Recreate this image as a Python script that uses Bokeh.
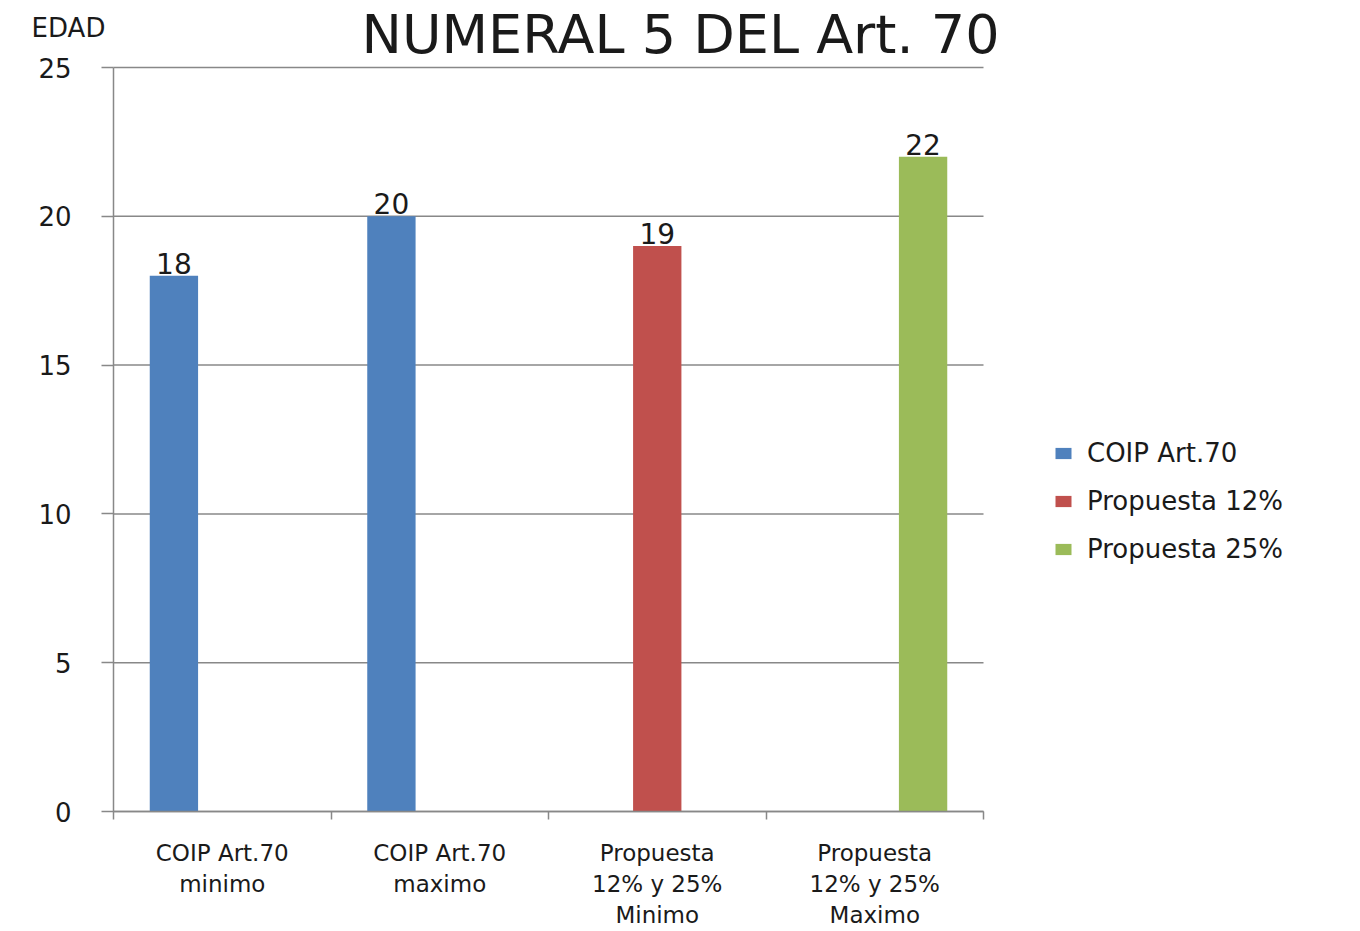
from bokeh.plotting import figure
from bokeh.models import ColumnDataSource, FixedTicker, Legend, LegendItem, Label, Range1d
from bokeh.embed import file_html
from bokeh.resources import INLINE
from bokeh.core.properties import value

# ---- data ----
title_text = "NUMERAL 5 DEL Art. 70"
y_title = "EDAD"
categories = ["COIP Art.70\nminimo", "COIP Art.70\nmaximo",
              "Propuesta\n12% y 25%\nMinimo", "Propuesta\n12% y 25%\nMaximo"]
series_names = ["COIP Art.70", "Propuesta 12%", "Propuesta 25%"]
coip_art70 = [18, 20, None, None]
propuesta_12 = [None, None, 19, None]
propuesta_25 = [None, None, None, 22]
series_values = [coip_art70, propuesta_12, propuesta_25]
colors = ["#4F81BD", "#C0504D", "#9BBB59"]
y_ticks = [0, 5, 10, 15, 20, 25]
y_max = 25

# ---- layout (pixels) ----
W, H = 1344, 931
AX_LEFT, AX_RIGHT = 113, 983      # plot area in pixels
AX_TOP, AX_BOTTOM = 67, 811
FONT = "DejaVu Sans"
TXT = "#1a1a1a"
GRAY = "#888888"

n_cat = len(categories)
n_ser = len(series_names)
bar_w = 1.0 / (n_ser + 1.5)

px_x = (AX_RIGHT - AX_LEFT) / n_cat
px_y = (AX_BOTTOM - AX_TOP) / y_max
def dx(px):  # page x pixel -> data x
    return (px - AX_LEFT) / px_x
def dy(py):  # page y pixel -> data y
    return (AX_BOTTOM - py) / px_y

p = figure(width=W, height=H, output_backend="svg", toolbar_location=None,
           x_range=Range1d(dx(0), dx(W)), y_range=Range1d(dy(H), dy(0)),
           min_border=0)
p.outline_line_color = None
p.background_fill_color = "white"
p.border_fill_color = "white"
p.xgrid.visible = False
p.ygrid.visible = False

# horizontal gridlines across the plot area only
p.segment(x0=0, x1=n_cat, y0=y_ticks, y1=y_ticks, line_color=GRAY, line_width=1.5)

legend_items = []
for j, (name, vals, col) in enumerate(zip(series_names, series_values, colors)):
    xs, ys, labs = [], [], []
    for i, v in enumerate(vals):
        if v is None:
            continue
        xs.append(i + 0.5 + (j - (n_ser - 1) / 2) * bar_w)
        ys.append(v)
        labs.append(str(v))
    src = ColumnDataSource(dict(x=xs, top=ys, lab=labs))
    r = p.vbar(x="x", top="top", width=bar_w, bottom=0, source=src,
               fill_color=col, line_color=None)
    p.text(x="x", y="top", text="lab", source=src, text_align="center",
           text_baseline="bottom", y_offset=-2, text_font=value(FONT),
           text_font_size="28px", text_color=TXT)
    legend_items.append(LegendItem(label=name, renderers=[r]))

# axes drawn at fixed data locations inside the canvas
xa = p.xaxis[0]
xa.fixed_location = 0
xa.bounds = (0, n_cat)
xa.ticker = FixedTicker(ticks=[i + 0.5 for i in range(n_cat)],
                        minor_ticks=list(range(n_cat + 1)))
xa.major_label_overrides = {i + 0.5: c for i, c in enumerate(categories)}
xa.major_tick_out = 0
xa.major_tick_in = 0
xa.minor_tick_out = 8
xa.minor_tick_in = 0
xa.minor_tick_line_color = GRAY
xa.minor_tick_line_width = 1.5
xa.axis_line_color = GRAY
xa.axis_line_width = 1.5
xa.major_label_text_font = FONT
xa.major_label_text_font_size = "23px"
xa.major_label_text_color = TXT
xa.major_label_standoff = 20

ya = p.yaxis[0]
ya.fixed_location = 0
ya.bounds = (0, y_max)
ya.ticker = FixedTicker(ticks=y_ticks, minor_ticks=[])
ya.major_tick_out = 12
ya.major_tick_in = 0
ya.major_tick_line_color = GRAY
ya.major_tick_line_width = 1.5
ya.axis_line_color = GRAY
ya.axis_line_width = 1.5
ya.major_label_text_font = FONT
ya.major_label_text_font_size = "26px"
ya.major_label_text_color = TXT
ya.major_label_standoff = 30

# title and axis title
p.add_layout(Label(x=dx(680), y=dy(2), text=title_text, text_align="center",
                   text_baseline="top", text_font=FONT,
                   text_font_size="54px", text_color=TXT))
p.add_layout(Label(x=dx(68), y=dy(27), text=y_title, text_align="center",
                   text_baseline="middle", text_font=FONT,
                   text_font_size="26px", text_color=TXT))

legend = Legend(items=legend_items,
                location=(1053, H - 564),
                orientation="vertical",
                glyph_width=20, glyph_height=14, label_height=26, spacing=18,
                label_standoff=14, padding=0, margin=0,
                label_text_font=FONT, label_text_font_size="26px",
                label_text_color=TXT, border_line_color=None,
                background_fill_alpha=0)
p.add_layout(legend, "center")

open("out.html", "w").write(file_html(p, INLINE))
